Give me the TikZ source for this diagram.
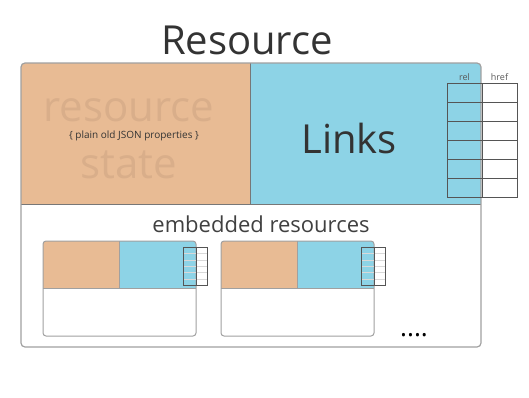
\documentclass[tikz,border=0pt]{standalone}
\usepackage{fontspec}
\setmainfont{Open Sans}
\usetikzlibrary{positioning,calc}
\definecolor{statefill}{HTML}{E8BB94}
\definecolor{statetext}{HTML}{D9AE8A}
\definecolor{linkfill}{HTML}{8DD3E6}
\definecolor{frame}{HTML}{A0A0A0}
\definecolor{gridline}{HTML}{555555}
\definecolor{splitline}{HTML}{777777}

\begin{document}
\begin{tikzpicture}[x=1pt,y=-1pt,
  part/.style={inner sep=0pt,outer sep=0pt,anchor=north west},
  statepart/.style={part,fill=statefill},
  linkpart/.style={part,fill=linkfill},
  cell/.style={part,draw=gridline,line width=0.8pt,minimum width=35pt,minimum height=19pt},
  minicell/.style={part,draw=black!15,line width=0.4pt,minimum height=6.4pt},
  boxframe/.style={draw=frame,line width=1.2pt,rounded corners=4pt},
  split/.style={draw=splitline,line width=0.8pt},
  label/.style={inner sep=0pt,anchor=base}
]
\useasboundingbox (0,0) rectangle (529,397);
\node[label,font=\fontsize{40}{40}\selectfont,text=black!80] (title) at (247,54) {Resource};

% outer resource
\coordinate (rnw) at (21,63);
\coordinate (rse) at (481,347);
\begin{scope}
\clip[rounded corners=4pt] (rnw) rectangle (rse);
\node[statepart,minimum width=229pt,minimum height=141pt] (state) at (rnw) {};
\node[linkpart,minimum width=231pt,minimum height=141pt,right=0pt of state] (links) {};
\end{scope}
\draw[split] (state.north east) -- (state.south east);
\draw[split] (state.south west) -- (links.south east);
\draw[boxframe] (rnw) rectangle (rse);

\node[label,font=\fontsize{42}{42}\selectfont,text=statetext] (statetop) at (129,121) {resource};
\node[label,font=\fontsize{42}{42}\selectfont,text=statetext] (statebot) at (129,178) {state};
\node[font=\fontsize{10}{10}\selectfont,text=black!80,inner sep=1pt] (props) at (134,136) {\{ plain old JSON properties \}};
\node[label,font=\fontsize{40}{40}\selectfont,text=black!80] (linkstext) at (349,153) {Links};

% rel / href table
\foreach \r in {0,...,5} {
  \node[cell] (rel\r) at (447,{83+19*\r}) {};
  \node[cell,right=0pt of rel\r] (href\r) {};
}
\node[label,font=\fontsize{9}{9}\selectfont,text=black!65] (relhead) at (rel0.north |- 0,80) {rel};
\node[label,font=\fontsize{9}{9}\selectfont,text=black!65] (hrefhead) at (href0.north |- 0,80) {href};

\node[label,font=\fontsize{22}{22}\selectfont,text=black!75] (embtitle) at (261,232) {embedded resources};

% embedded resources
\foreach \n/\x in {1/43,2/221} {
  \coordinate (emb\n nw) at (\x,241);
  \coordinate (emb\n se) at (\x+153,336);
  \begin{scope}
  \clip[rounded corners=3pt] (emb\n nw) rectangle (emb\n se);
  \node[statepart,minimum width=76pt,minimum height=47pt] (embstate\n) at (emb\n nw) {};
  \node[linkpart,minimum width=77pt,minimum height=47pt,right=0pt of embstate\n] (emblinks\n) {};
  \end{scope}
  \draw[split,draw=frame] (embstate\n.north east) -- (embstate\n.south east);
  \draw[split,draw=frame] (embstate\n.south west) -- (emblinks\n.south east);
  \draw[boxframe,rounded corners=3pt,line width=1pt] (emb\n nw) rectangle (emb\n se);
  \foreach \r in {0,...,5} {
    \node[minicell,minimum width=13pt] (mrel\n\r) at (\x+140,{247+6.4*\r}) {};
    \node[minicell,minimum width=11pt,right=0pt of mrel\n\r] (mhref\n\r) {};
  }
  \draw[gridline,line width=0.8pt] (mrel\n0.north west) rectangle (mhref\n5.south east);
  \draw[gridline,line width=0.8pt] (mrel\n0.north east) -- (mrel\n5.south east);
}

\node[label,font=\fontsize{26}{26}\selectfont] (more) at (414,336) {....};
\end{tikzpicture}
\end{document}
